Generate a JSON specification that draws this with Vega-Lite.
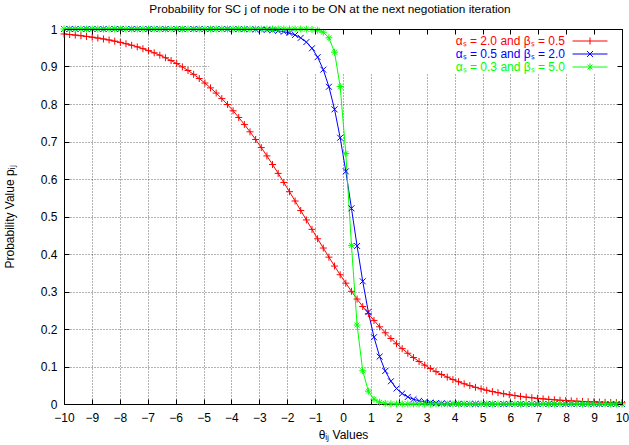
{
"$schema": "https://vega.github.io/schema/vega-lite/v6.json",
"width": 558, "height": 375,
"autosize": "none",
"padding": {"left": 64, "top": 29, "right": 7, "bottom": 41},
"background": "white",
"config": {"view": {"stroke": null}, "font": "Liberation Sans"},
"title": {"text": "Probability for SC j of node i to be ON at the next negotiation iteration", "fontSize": 11.8, "fontWeight": "normal", "font": "Liberation Sans", "color": "black", "offset": 7, "dx": -13},
"datasets": {
"curves": [
{"s":"αₛ = 2.0 and βₛ = 0.5","t":-10,"p":0.9867},{"s":"αₛ = 2.0 and βₛ = 0.5","t":-9.798,"p":0.9853},{"s":"αₛ = 2.0 and βₛ = 0.5","t":-9.596,"p":0.9838},{"s":"αₛ = 2.0 and βₛ = 0.5","t":-9.3939,"p":0.9821},{"s":"αₛ = 2.0 and βₛ = 0.5","t":-9.1919,"p":0.9802},{"s":"αₛ = 2.0 and βₛ = 0.5","t":-8.9899,"p":0.9782},{"s":"αₛ = 2.0 and βₛ = 0.5","t":-8.7879,"p":0.9759},{"s":"αₛ = 2.0 and βₛ = 0.5","t":-8.5859,"p":0.9734},{"s":"αₛ = 2.0 and βₛ = 0.5","t":-8.3838,"p":0.9707},{"s":"αₛ = 2.0 and βₛ = 0.5","t":-8.1818,"p":0.9676},
{"s":"αₛ = 2.0 and βₛ = 0.5","t":-7.9798,"p":0.9643},{"s":"αₛ = 2.0 and βₛ = 0.5","t":-7.7778,"p":0.9607},{"s":"αₛ = 2.0 and βₛ = 0.5","t":-7.5758,"p":0.9567},{"s":"αₛ = 2.0 and βₛ = 0.5","t":-7.3737,"p":0.9523},{"s":"αₛ = 2.0 and βₛ = 0.5","t":-7.1717,"p":0.9475},{"s":"αₛ = 2.0 and βₛ = 0.5","t":-6.9697,"p":0.9422},{"s":"αₛ = 2.0 and βₛ = 0.5","t":-6.7677,"p":0.9365},{"s":"αₛ = 2.0 and βₛ = 0.5","t":-6.5657,"p":0.9302},{"s":"αₛ = 2.0 and βₛ = 0.5","t":-6.3636,"p":0.9233},{"s":"αₛ = 2.0 and βₛ = 0.5","t":-6.1616,"p":0.9159},
{"s":"αₛ = 2.0 and βₛ = 0.5","t":-5.9596,"p":0.9078},{"s":"αₛ = 2.0 and βₛ = 0.5","t":-5.7576,"p":0.899},{"s":"αₛ = 2.0 and βₛ = 0.5","t":-5.5556,"p":0.8894},{"s":"αₛ = 2.0 and βₛ = 0.5","t":-5.3535,"p":0.8791},{"s":"αₛ = 2.0 and βₛ = 0.5","t":-5.1515,"p":0.8679},{"s":"αₛ = 2.0 and βₛ = 0.5","t":-4.9495,"p":0.8559},{"s":"αₛ = 2.0 and βₛ = 0.5","t":-4.7475,"p":0.843},{"s":"αₛ = 2.0 and βₛ = 0.5","t":-4.5455,"p":0.8291},{"s":"αₛ = 2.0 and βₛ = 0.5","t":-4.3434,"p":0.8144},{"s":"αₛ = 2.0 and βₛ = 0.5","t":-4.1414,"p":0.7986},
{"s":"αₛ = 2.0 and βₛ = 0.5","t":-3.9394,"p":0.7819},{"s":"αₛ = 2.0 and βₛ = 0.5","t":-3.7374,"p":0.7641},{"s":"αₛ = 2.0 and βₛ = 0.5","t":-3.5354,"p":0.7455},{"s":"αₛ = 2.0 and βₛ = 0.5","t":-3.3333,"p":0.7258},{"s":"αₛ = 2.0 and βₛ = 0.5","t":-3.1313,"p":0.7053},{"s":"αₛ = 2.0 and βₛ = 0.5","t":-2.9293,"p":0.6838},{"s":"αₛ = 2.0 and βₛ = 0.5","t":-2.7273,"p":0.6616},{"s":"αₛ = 2.0 and βₛ = 0.5","t":-2.5253,"p":0.6386},{"s":"αₛ = 2.0 and βₛ = 0.5","t":-2.3232,"p":0.615},{"s":"αₛ = 2.0 and βₛ = 0.5","t":-2.1212,"p":0.5908},
{"s":"αₛ = 2.0 and βₛ = 0.5","t":-1.9192,"p":0.5662},{"s":"αₛ = 2.0 and βₛ = 0.5","t":-1.7172,"p":0.5413},{"s":"αₛ = 2.0 and βₛ = 0.5","t":-1.5152,"p":0.5161},{"s":"αₛ = 2.0 and βₛ = 0.5","t":-1.3131,"p":0.4908},{"s":"αₛ = 2.0 and βₛ = 0.5","t":-1.1111,"p":0.4657},{"s":"αₛ = 2.0 and βₛ = 0.5","t":-0.9091,"p":0.4406},{"s":"αₛ = 2.0 and βₛ = 0.5","t":-0.7071,"p":0.4159},{"s":"αₛ = 2.0 and βₛ = 0.5","t":-0.5051,"p":0.3916},{"s":"αₛ = 2.0 and βₛ = 0.5","t":-0.303,"p":0.3678},{"s":"αₛ = 2.0 and βₛ = 0.5","t":-0.101,"p":0.3446},
{"s":"αₛ = 2.0 and βₛ = 0.5","t":0.101,"p":0.3222},{"s":"αₛ = 2.0 and βₛ = 0.5","t":0.303,"p":0.3005},{"s":"αₛ = 2.0 and βₛ = 0.5","t":0.5051,"p":0.2798},{"s":"αₛ = 2.0 and βₛ = 0.5","t":0.7071,"p":0.2599},{"s":"αₛ = 2.0 and βₛ = 0.5","t":0.9091,"p":0.2409},{"s":"αₛ = 2.0 and βₛ = 0.5","t":1.1111,"p":0.2229},{"s":"αₛ = 2.0 and βₛ = 0.5","t":1.3131,"p":0.2059},{"s":"αₛ = 2.0 and βₛ = 0.5","t":1.5152,"p":0.1899},{"s":"αₛ = 2.0 and βₛ = 0.5","t":1.7172,"p":0.1748},{"s":"αₛ = 2.0 and βₛ = 0.5","t":1.9192,"p":0.1607},
{"s":"αₛ = 2.0 and βₛ = 0.5","t":2.1212,"p":0.1476},{"s":"αₛ = 2.0 and βₛ = 0.5","t":2.3232,"p":0.1353},{"s":"αₛ = 2.0 and βₛ = 0.5","t":2.5253,"p":0.1239},{"s":"αₛ = 2.0 and βₛ = 0.5","t":2.7273,"p":0.1134},{"s":"αₛ = 2.0 and βₛ = 0.5","t":2.9293,"p":0.1036},{"s":"αₛ = 2.0 and βₛ = 0.5","t":3.1313,"p":0.0946},{"s":"αₛ = 2.0 and βₛ = 0.5","t":3.3333,"p":0.0863},{"s":"αₛ = 2.0 and βₛ = 0.5","t":3.5354,"p":0.0786},{"s":"αₛ = 2.0 and βₛ = 0.5","t":3.7374,"p":0.0717},{"s":"αₛ = 2.0 and βₛ = 0.5","t":3.9394,"p":0.0652},
{"s":"αₛ = 2.0 and βₛ = 0.5","t":4.1414,"p":0.0593},{"s":"αₛ = 2.0 and βₛ = 0.5","t":4.3434,"p":0.0539},{"s":"αₛ = 2.0 and βₛ = 0.5","t":4.5455,"p":0.049},{"s":"αₛ = 2.0 and βₛ = 0.5","t":4.7475,"p":0.0445},{"s":"αₛ = 2.0 and βₛ = 0.5","t":4.9495,"p":0.0404},{"s":"αₛ = 2.0 and βₛ = 0.5","t":5.1515,"p":0.0367},{"s":"αₛ = 2.0 and βₛ = 0.5","t":5.3535,"p":0.0332},{"s":"αₛ = 2.0 and βₛ = 0.5","t":5.5556,"p":0.0302},{"s":"αₛ = 2.0 and βₛ = 0.5","t":5.7576,"p":0.0273},{"s":"αₛ = 2.0 and βₛ = 0.5","t":5.9596,"p":0.0248},
{"s":"αₛ = 2.0 and βₛ = 0.5","t":6.1616,"p":0.0224},{"s":"αₛ = 2.0 and βₛ = 0.5","t":6.3636,"p":0.0203},{"s":"αₛ = 2.0 and βₛ = 0.5","t":6.5657,"p":0.0184},{"s":"αₛ = 2.0 and βₛ = 0.5","t":6.7677,"p":0.0167},{"s":"αₛ = 2.0 and βₛ = 0.5","t":6.9697,"p":0.0151},{"s":"αₛ = 2.0 and βₛ = 0.5","t":7.1717,"p":0.0137},{"s":"αₛ = 2.0 and βₛ = 0.5","t":7.3737,"p":0.0124},{"s":"αₛ = 2.0 and βₛ = 0.5","t":7.5758,"p":0.0112},{"s":"αₛ = 2.0 and βₛ = 0.5","t":7.7778,"p":0.0101},{"s":"αₛ = 2.0 and βₛ = 0.5","t":7.9798,"p":0.0092},
{"s":"αₛ = 2.0 and βₛ = 0.5","t":8.1818,"p":0.0083},{"s":"αₛ = 2.0 and βₛ = 0.5","t":8.3838,"p":0.0075},{"s":"αₛ = 2.0 and βₛ = 0.5","t":8.5859,"p":0.0068},{"s":"αₛ = 2.0 and βₛ = 0.5","t":8.7879,"p":0.0061},{"s":"αₛ = 2.0 and βₛ = 0.5","t":8.9899,"p":0.0056},{"s":"αₛ = 2.0 and βₛ = 0.5","t":9.1919,"p":0.005},{"s":"αₛ = 2.0 and βₛ = 0.5","t":9.3939,"p":0.0045},{"s":"αₛ = 2.0 and βₛ = 0.5","t":9.596,"p":0.0041},{"s":"αₛ = 2.0 and βₛ = 0.5","t":9.798,"p":0.0037},{"s":"αₛ = 2.0 and βₛ = 0.5","t":10,"p":0.0034},

{"s":"αₛ = 0.5 and βₛ = 2.0","t":-10,"p":1},{"s":"αₛ = 0.5 and βₛ = 2.0","t":-9.798,"p":1},{"s":"αₛ = 0.5 and βₛ = 2.0","t":-9.596,"p":1},{"s":"αₛ = 0.5 and βₛ = 2.0","t":-9.3939,"p":1},{"s":"αₛ = 0.5 and βₛ = 2.0","t":-9.1919,"p":1},{"s":"αₛ = 0.5 and βₛ = 2.0","t":-8.9899,"p":1},{"s":"αₛ = 0.5 and βₛ = 2.0","t":-8.7879,"p":1},{"s":"αₛ = 0.5 and βₛ = 2.0","t":-8.5859,"p":1},{"s":"αₛ = 0.5 and βₛ = 2.0","t":-8.3838,"p":1},{"s":"αₛ = 0.5 and βₛ = 2.0","t":-8.1818,"p":1},
{"s":"αₛ = 0.5 and βₛ = 2.0","t":-7.9798,"p":1},{"s":"αₛ = 0.5 and βₛ = 2.0","t":-7.7778,"p":1},{"s":"αₛ = 0.5 and βₛ = 2.0","t":-7.5758,"p":1},{"s":"αₛ = 0.5 and βₛ = 2.0","t":-7.3737,"p":1},{"s":"αₛ = 0.5 and βₛ = 2.0","t":-7.1717,"p":1},{"s":"αₛ = 0.5 and βₛ = 2.0","t":-6.9697,"p":1},{"s":"αₛ = 0.5 and βₛ = 2.0","t":-6.7677,"p":1},{"s":"αₛ = 0.5 and βₛ = 2.0","t":-6.5657,"p":1},{"s":"αₛ = 0.5 and βₛ = 2.0","t":-6.3636,"p":1},{"s":"αₛ = 0.5 and βₛ = 2.0","t":-6.1616,"p":1},
{"s":"αₛ = 0.5 and βₛ = 2.0","t":-5.9596,"p":1},{"s":"αₛ = 0.5 and βₛ = 2.0","t":-5.7576,"p":1},{"s":"αₛ = 0.5 and βₛ = 2.0","t":-5.5556,"p":1},{"s":"αₛ = 0.5 and βₛ = 2.0","t":-5.3535,"p":1},{"s":"αₛ = 0.5 and βₛ = 2.0","t":-5.1515,"p":1},{"s":"αₛ = 0.5 and βₛ = 2.0","t":-4.9495,"p":1},{"s":"αₛ = 0.5 and βₛ = 2.0","t":-4.7475,"p":0.99996},{"s":"αₛ = 0.5 and βₛ = 2.0","t":-4.5455,"p":0.99994},{"s":"αₛ = 0.5 and βₛ = 2.0","t":-4.3434,"p":0.99992},{"s":"αₛ = 0.5 and βₛ = 2.0","t":-4.1414,"p":0.99987},
{"s":"αₛ = 0.5 and βₛ = 2.0","t":-3.9394,"p":0.99981},{"s":"αₛ = 0.5 and βₛ = 2.0","t":-3.7374,"p":0.99972},{"s":"αₛ = 0.5 and βₛ = 2.0","t":-3.5354,"p":0.99958},{"s":"αₛ = 0.5 and βₛ = 2.0","t":-3.3333,"p":0.99936},{"s":"αₛ = 0.5 and βₛ = 2.0","t":-3.1313,"p":0.99905},{"s":"αₛ = 0.5 and βₛ = 2.0","t":-2.9293,"p":0.99857},{"s":"αₛ = 0.5 and βₛ = 2.0","t":-2.7273,"p":0.99787},{"s":"αₛ = 0.5 and βₛ = 2.0","t":-2.5253,"p":0.99681},{"s":"αₛ = 0.5 and βₛ = 2.0","t":-2.3232,"p":0.99522},{"s":"αₛ = 0.5 and βₛ = 2.0","t":-2.1212,"p":0.99287},
{"s":"αₛ = 0.5 and βₛ = 2.0","t":-1.9192,"p":0.98935},{"s":"αₛ = 0.5 and βₛ = 2.0","t":-1.7172,"p":0.98413},{"s":"αₛ = 0.5 and βₛ = 2.0","t":-1.5152,"p":0.97642},{"s":"αₛ = 0.5 and βₛ = 2.0","t":-1.3131,"p":0.96509},{"s":"αₛ = 0.5 and βₛ = 2.0","t":-1.1111,"p":0.9486},{"s":"αₛ = 0.5 and βₛ = 2.0","t":-0.9091,"p":0.92493},{"s":"αₛ = 0.5 and βₛ = 2.0","t":-0.7071,"p":0.89161},{"s":"αₛ = 0.5 and βₛ = 2.0","t":-0.5051,"p":0.84596},{"s":"αₛ = 0.5 and βₛ = 2.0","t":-0.303,"p":0.78571},{"s":"αₛ = 0.5 and βₛ = 2.0","t":-0.101,"p":0.70995},
{"s":"αₛ = 0.5 and βₛ = 2.0","t":0.101,"p":0.62037},{"s":"αₛ = 0.5 and βₛ = 2.0","t":0.303,"p":0.52176},{"s":"αₛ = 0.5 and βₛ = 2.0","t":0.5051,"p":0.42141},{"s":"αₛ = 0.5 and βₛ = 2.0","t":0.7071,"p":0.32717},{"s":"αₛ = 0.5 and βₛ = 2.0","t":0.9091,"p":0.24507},{"s":"αₛ = 0.5 and βₛ = 2.0","t":1.1111,"p":0.17813},{"s":"αₛ = 0.5 and βₛ = 2.0","t":1.3131,"p":0.1264},{"s":"αₛ = 0.5 and βₛ = 2.0","t":1.5152,"p":0.08809},{"s":"αₛ = 0.5 and βₛ = 2.0","t":1.7172,"p":0.06058},{"s":"αₛ = 0.5 and βₛ = 2.0","t":1.9192,"p":0.04128},
{"s":"αₛ = 0.5 and βₛ = 2.0","t":2.1212,"p":0.02794},{"s":"αₛ = 0.5 and βₛ = 2.0","t":2.3232,"p":0.01883},{"s":"αₛ = 0.5 and βₛ = 2.0","t":2.5253,"p":0.01265},{"s":"αₛ = 0.5 and βₛ = 2.0","t":2.7273,"p":0.00848},{"s":"αₛ = 0.5 and βₛ = 2.0","t":2.9293,"p":0.00568},{"s":"αₛ = 0.5 and βₛ = 2.0","t":3.1313,"p":0.0038},{"s":"αₛ = 0.5 and βₛ = 2.0","t":3.3333,"p":0.00254},{"s":"αₛ = 0.5 and βₛ = 2.0","t":3.5354,"p":0.0017},{"s":"αₛ = 0.5 and βₛ = 2.0","t":3.7374,"p":0.00113},{"s":"αₛ = 0.5 and βₛ = 2.0","t":3.9394,"p":0.00076},
{"s":"αₛ = 0.5 and βₛ = 2.0","t":4.1414,"p":0.00051},{"s":"αₛ = 0.5 and βₛ = 2.0","t":4.3434,"p":0.00034},{"s":"αₛ = 0.5 and βₛ = 2.0","t":4.5455,"p":0.00023},{"s":"αₛ = 0.5 and βₛ = 2.0","t":4.7475,"p":0.00015},{"s":"αₛ = 0.5 and βₛ = 2.0","t":4.9495,"p":0.0001},{"s":"αₛ = 0.5 and βₛ = 2.0","t":5.1515,"p":0},{"s":"αₛ = 0.5 and βₛ = 2.0","t":5.3535,"p":0},{"s":"αₛ = 0.5 and βₛ = 2.0","t":5.5556,"p":0},{"s":"αₛ = 0.5 and βₛ = 2.0","t":5.7576,"p":0},{"s":"αₛ = 0.5 and βₛ = 2.0","t":5.9596,"p":0},
{"s":"αₛ = 0.5 and βₛ = 2.0","t":6.1616,"p":0},{"s":"αₛ = 0.5 and βₛ = 2.0","t":6.3636,"p":0},{"s":"αₛ = 0.5 and βₛ = 2.0","t":6.5657,"p":0},{"s":"αₛ = 0.5 and βₛ = 2.0","t":6.7677,"p":0},{"s":"αₛ = 0.5 and βₛ = 2.0","t":6.9697,"p":0},{"s":"αₛ = 0.5 and βₛ = 2.0","t":7.1717,"p":0},{"s":"αₛ = 0.5 and βₛ = 2.0","t":7.3737,"p":0},{"s":"αₛ = 0.5 and βₛ = 2.0","t":7.5758,"p":0},{"s":"αₛ = 0.5 and βₛ = 2.0","t":7.7778,"p":0},{"s":"αₛ = 0.5 and βₛ = 2.0","t":7.9798,"p":0},
{"s":"αₛ = 0.5 and βₛ = 2.0","t":8.1818,"p":0},{"s":"αₛ = 0.5 and βₛ = 2.0","t":8.3838,"p":0},{"s":"αₛ = 0.5 and βₛ = 2.0","t":8.5859,"p":0},{"s":"αₛ = 0.5 and βₛ = 2.0","t":8.7879,"p":0},{"s":"αₛ = 0.5 and βₛ = 2.0","t":8.9899,"p":0},{"s":"αₛ = 0.5 and βₛ = 2.0","t":9.1919,"p":0},{"s":"αₛ = 0.5 and βₛ = 2.0","t":9.3939,"p":0},{"s":"αₛ = 0.5 and βₛ = 2.0","t":9.596,"p":0},{"s":"αₛ = 0.5 and βₛ = 2.0","t":9.798,"p":0},{"s":"αₛ = 0.5 and βₛ = 2.0","t":10,"p":0},

{"s":"αₛ = 0.3 and βₛ = 5.0","t":-10,"p":1},{"s":"αₛ = 0.3 and βₛ = 5.0","t":-9.798,"p":1},{"s":"αₛ = 0.3 and βₛ = 5.0","t":-9.596,"p":1},{"s":"αₛ = 0.3 and βₛ = 5.0","t":-9.3939,"p":1},{"s":"αₛ = 0.3 and βₛ = 5.0","t":-9.1919,"p":1},{"s":"αₛ = 0.3 and βₛ = 5.0","t":-8.9899,"p":1},{"s":"αₛ = 0.3 and βₛ = 5.0","t":-8.7879,"p":1},{"s":"αₛ = 0.3 and βₛ = 5.0","t":-8.5859,"p":1},{"s":"αₛ = 0.3 and βₛ = 5.0","t":-8.3838,"p":1},{"s":"αₛ = 0.3 and βₛ = 5.0","t":-8.1818,"p":1},
{"s":"αₛ = 0.3 and βₛ = 5.0","t":-7.9798,"p":1},{"s":"αₛ = 0.3 and βₛ = 5.0","t":-7.7778,"p":1},{"s":"αₛ = 0.3 and βₛ = 5.0","t":-7.5758,"p":1},{"s":"αₛ = 0.3 and βₛ = 5.0","t":-7.3737,"p":1},{"s":"αₛ = 0.3 and βₛ = 5.0","t":-7.1717,"p":1},{"s":"αₛ = 0.3 and βₛ = 5.0","t":-6.9697,"p":1},{"s":"αₛ = 0.3 and βₛ = 5.0","t":-6.7677,"p":1},{"s":"αₛ = 0.3 and βₛ = 5.0","t":-6.5657,"p":1},{"s":"αₛ = 0.3 and βₛ = 5.0","t":-6.3636,"p":1},{"s":"αₛ = 0.3 and βₛ = 5.0","t":-6.1616,"p":1},
{"s":"αₛ = 0.3 and βₛ = 5.0","t":-5.9596,"p":1},{"s":"αₛ = 0.3 and βₛ = 5.0","t":-5.7576,"p":1},{"s":"αₛ = 0.3 and βₛ = 5.0","t":-5.5556,"p":1},{"s":"αₛ = 0.3 and βₛ = 5.0","t":-5.3535,"p":1},{"s":"αₛ = 0.3 and βₛ = 5.0","t":-5.1515,"p":1},{"s":"αₛ = 0.3 and βₛ = 5.0","t":-4.9495,"p":1},{"s":"αₛ = 0.3 and βₛ = 5.0","t":-4.7475,"p":1},{"s":"αₛ = 0.3 and βₛ = 5.0","t":-4.5455,"p":1},{"s":"αₛ = 0.3 and βₛ = 5.0","t":-4.3434,"p":1},{"s":"αₛ = 0.3 and βₛ = 5.0","t":-4.1414,"p":1},
{"s":"αₛ = 0.3 and βₛ = 5.0","t":-3.9394,"p":1},{"s":"αₛ = 0.3 and βₛ = 5.0","t":-3.7374,"p":1},{"s":"αₛ = 0.3 and βₛ = 5.0","t":-3.5354,"p":1},{"s":"αₛ = 0.3 and βₛ = 5.0","t":-3.3333,"p":1},{"s":"αₛ = 0.3 and βₛ = 5.0","t":-3.1313,"p":1},{"s":"αₛ = 0.3 and βₛ = 5.0","t":-2.9293,"p":1},{"s":"αₛ = 0.3 and βₛ = 5.0","t":-2.7273,"p":1},{"s":"αₛ = 0.3 and βₛ = 5.0","t":-2.5253,"p":1},{"s":"αₛ = 0.3 and βₛ = 5.0","t":-2.3232,"p":1},{"s":"αₛ = 0.3 and βₛ = 5.0","t":-2.1212,"p":1},
{"s":"αₛ = 0.3 and βₛ = 5.0","t":-1.9192,"p":0.99998},{"s":"αₛ = 0.3 and βₛ = 5.0","t":-1.7172,"p":0.99994},{"s":"αₛ = 0.3 and βₛ = 5.0","t":-1.5152,"p":0.99985},{"s":"αₛ = 0.3 and βₛ = 5.0","t":-1.3131,"p":0.99958},{"s":"αₛ = 0.3 and βₛ = 5.0","t":-1.1111,"p":0.99884},{"s":"αₛ = 0.3 and βₛ = 5.0","t":-0.9091,"p":0.99683},{"s":"αₛ = 0.3 and βₛ = 5.0","t":-0.7071,"p":0.99133},{"s":"αₛ = 0.3 and βₛ = 5.0","t":-0.5051,"p":0.97655},{"s":"αₛ = 0.3 and βₛ = 5.0","t":-0.303,"p":0.93813},{"s":"αₛ = 0.3 and βₛ = 5.0","t":-0.101,"p":0.84667},
{"s":"αₛ = 0.3 and βₛ = 5.0","t":0.101,"p":0.6679},{"s":"αₛ = 0.3 and βₛ = 5.0","t":0.303,"p":0.42289},{"s":"αₛ = 0.3 and βₛ = 5.0","t":0.5051,"p":0.21064},{"s":"αₛ = 0.3 and βₛ = 5.0","t":0.7071,"p":0.08857},{"s":"αₛ = 0.3 and βₛ = 5.0","t":0.9091,"p":0.03418},{"s":"αₛ = 0.3 and βₛ = 5.0","t":1.1111,"p":0.01272},{"s":"αₛ = 0.3 and βₛ = 5.0","t":1.3131,"p":0.00467},{"s":"αₛ = 0.3 and βₛ = 5.0","t":1.5152,"p":0.00171},{"s":"αₛ = 0.3 and βₛ = 5.0","t":1.7172,"p":0.00062},{"s":"αₛ = 0.3 and βₛ = 5.0","t":1.9192,"p":0.00023},
{"s":"αₛ = 0.3 and βₛ = 5.0","t":2.1212,"p":0},{"s":"αₛ = 0.3 and βₛ = 5.0","t":2.3232,"p":0},{"s":"αₛ = 0.3 and βₛ = 5.0","t":2.5253,"p":0},{"s":"αₛ = 0.3 and βₛ = 5.0","t":2.7273,"p":0},{"s":"αₛ = 0.3 and βₛ = 5.0","t":2.9293,"p":0},{"s":"αₛ = 0.3 and βₛ = 5.0","t":3.1313,"p":0},{"s":"αₛ = 0.3 and βₛ = 5.0","t":3.3333,"p":0},{"s":"αₛ = 0.3 and βₛ = 5.0","t":3.5354,"p":0},{"s":"αₛ = 0.3 and βₛ = 5.0","t":3.7374,"p":0},{"s":"αₛ = 0.3 and βₛ = 5.0","t":3.9394,"p":0},
{"s":"αₛ = 0.3 and βₛ = 5.0","t":4.1414,"p":0},{"s":"αₛ = 0.3 and βₛ = 5.0","t":4.3434,"p":0},{"s":"αₛ = 0.3 and βₛ = 5.0","t":4.5455,"p":0},{"s":"αₛ = 0.3 and βₛ = 5.0","t":4.7475,"p":0},{"s":"αₛ = 0.3 and βₛ = 5.0","t":4.9495,"p":0},{"s":"αₛ = 0.3 and βₛ = 5.0","t":5.1515,"p":0},{"s":"αₛ = 0.3 and βₛ = 5.0","t":5.3535,"p":0},{"s":"αₛ = 0.3 and βₛ = 5.0","t":5.5556,"p":0},{"s":"αₛ = 0.3 and βₛ = 5.0","t":5.7576,"p":0},{"s":"αₛ = 0.3 and βₛ = 5.0","t":5.9596,"p":0},
{"s":"αₛ = 0.3 and βₛ = 5.0","t":6.1616,"p":0},{"s":"αₛ = 0.3 and βₛ = 5.0","t":6.3636,"p":0},{"s":"αₛ = 0.3 and βₛ = 5.0","t":6.5657,"p":0},{"s":"αₛ = 0.3 and βₛ = 5.0","t":6.7677,"p":0},{"s":"αₛ = 0.3 and βₛ = 5.0","t":6.9697,"p":0},{"s":"αₛ = 0.3 and βₛ = 5.0","t":7.1717,"p":0},{"s":"αₛ = 0.3 and βₛ = 5.0","t":7.3737,"p":0},{"s":"αₛ = 0.3 and βₛ = 5.0","t":7.5758,"p":0},{"s":"αₛ = 0.3 and βₛ = 5.0","t":7.7778,"p":0},{"s":"αₛ = 0.3 and βₛ = 5.0","t":7.9798,"p":0},
{"s":"αₛ = 0.3 and βₛ = 5.0","t":8.1818,"p":0},{"s":"αₛ = 0.3 and βₛ = 5.0","t":8.3838,"p":0},{"s":"αₛ = 0.3 and βₛ = 5.0","t":8.5859,"p":0},{"s":"αₛ = 0.3 and βₛ = 5.0","t":8.7879,"p":0},{"s":"αₛ = 0.3 and βₛ = 5.0","t":8.9899,"p":0},{"s":"αₛ = 0.3 and βₛ = 5.0","t":9.1919,"p":0},{"s":"αₛ = 0.3 and βₛ = 5.0","t":9.3939,"p":0},{"s":"αₛ = 0.3 and βₛ = 5.0","t":9.596,"p":0},{"s":"αₛ = 0.3 and βₛ = 5.0","t":9.798,"p":0},{"s":"αₛ = 0.3 and βₛ = 5.0","t":10,"p":0}
],
"keybox": [{"x0": -4.8, "x1": 10, "y0": 0.883, "y1": 1}]
},
"resolve": {"axis": {"x": "independent", "y": "independent"}},
"layer": [
{
"data": {"name": "keybox"},
"mark": {"type": "rect", "color": "white"},
"encoding": {
"x": {"field": "x0", "type": "quantitative", "scale": {"domain": [-10, 10], "nice": false, "zero": false}, "axis": null},
"x2": {"field": "x1"},
"y": {"field": "y0", "type": "quantitative", "scale": {"domain": [0, 1], "nice": false, "zero": false}, "axis": null},
"y2": {"field": "y1"}
}
},
{
"data": {"name": "curves"},
"mark": {"type": "line", "strokeWidth": 1},
"encoding": {
"x": {"field": "t", "type": "quantitative", "axis": {"orient": "bottom", "values": [-10,-9,-8,-7,-6,-5,-4,-3,-2,-1,0,1,2,3,4,5,6,7,8,9,10], "format": "d", "grid": true, "gridColor": "#000", "gridDash": [1, 2], "gridOpacity": 0.6, "gridWidth": 1, "tickSize": -5, "tickColor": "#000", "domainColor": "#000", "labelPadding": 13, "labelFontSize": 12, "labelColor": "#000", "labelFont": "Liberation Sans", "labelFlush": false, "labelOverlap": false, "title": "θᵢⱼ Values", "titleFontSize": 12, "titleFont": "Liberation Sans", "titleFontWeight": "normal", "titleColor": "#000", "titlePadding": 6, "zindex": 0}},
"y": {"field": "p", "type": "quantitative", "axis": {"orient": "left", "values": [0,0.1,0.2,0.3,0.4,0.5,0.6,0.7,0.8,0.9,1], "format": "~g", "grid": true, "gridColor": "#000", "gridDash": [1, 2], "gridOpacity": 0.6, "gridWidth": 1, "tickSize": -5, "tickColor": "#000", "domainColor": "#000", "labelPadding": 12, "labelFontSize": 12, "labelColor": "#000", "labelFont": "Liberation Sans", "labelFlush": false, "labelOverlap": false, "title": "Probability Value pᵢⱼ", "titleFontSize": 12, "titleFont": "Liberation Sans", "titleFontWeight": "normal", "titleColor": "#000", "titlePadding": 24, "zindex": 0}},
"color": {"field": "s", "type": "nominal",
"scale": {"domain": ["αₛ = 2.0 and βₛ = 0.5", "αₛ = 0.5 and βₛ = 2.0", "αₛ = 0.3 and βₛ = 5.0"], "range": ["#ff0000", "#0000ff", "#00ff00"]},
"legend": {"title": null, "orient": "none", "legendX": 508, "legendY": 12, "symbolSize": 1225, "symbolStrokeWidth": 1, "symbolType": "M-1,0H1", "labelAlign": "right", "labelOffset": -43, "labelFontSize": 12, "labelFont": "Liberation Sans", "labelLimit": 0, "rowPadding": 1, "padding": 0,
"encode": {
"symbols": {"update": {"y": {"value": 0}, "shape": {"signal": "datum.index === 0 ? 'M-1,0H1M0,-0.2V0.2' : datum.index === 1 ? 'M-1,0H1M-0.17,-0.17L0.17,0.17M-0.17,0.17L0.17,-0.17' : 'M-1,0H1M0,-0.2V0.2M-0.14,-0.14L0.14,0.14M-0.14,0.14L0.14,-0.14'"}, "stroke": {"scale": "color", "field": "value"}, "fill": {"value": "transparent"}, "strokeWidth": {"value": 1}, "opacity": {"value": 1}}},
"labels": {"update": {"y": {"value": 0}, "fill": {"scale": "color", "field": "value"}}}
}}
}
}
},
{
"data": {"name": "curves"},
"mark": {"type": "point", "filled": false, "strokeWidth": 1, "size": 49, "opacity": 1},
"encoding": {
"x": {"field": "t", "type": "quantitative", "axis": {"orient": "top", "values": [-10,-9,-8,-7,-6,-5,-4,-3,-2,-1,0,1,2,3,4,5,6,7,8,9,10], "grid": false, "labels": false, "title": null, "tickSize": -5, "tickColor": "#000", "domainColor": "#000", "zindex": 1}},
"y": {"field": "p", "type": "quantitative", "axis": {"orient": "right", "values": [0,0.1,0.2,0.3,0.4,0.5,0.6,0.7,0.8,0.9,1], "grid": false, "labels": false, "title": null, "tickSize": -5, "tickColor": "#000", "domainColor": "#000", "zindex": 1}},
"color": {"field": "s", "type": "nominal", "legend": null},
"shape": {"condition": [{"test": "datum.s === 'αₛ = 2.0 and βₛ = 0.5'", "value": "M-1,0H1M0,-1V1"}, {"test": "datum.s === 'αₛ = 0.5 and βₛ = 2.0'", "value": "M-0.85,-0.85L0.85,0.85M-0.85,0.85L0.85,-0.85"}], "value": "M-1,0H1M0,-1V1M-0.7,-0.7L0.7,0.7M-0.7,0.7L0.7,-0.7"}
}
}
]
}
